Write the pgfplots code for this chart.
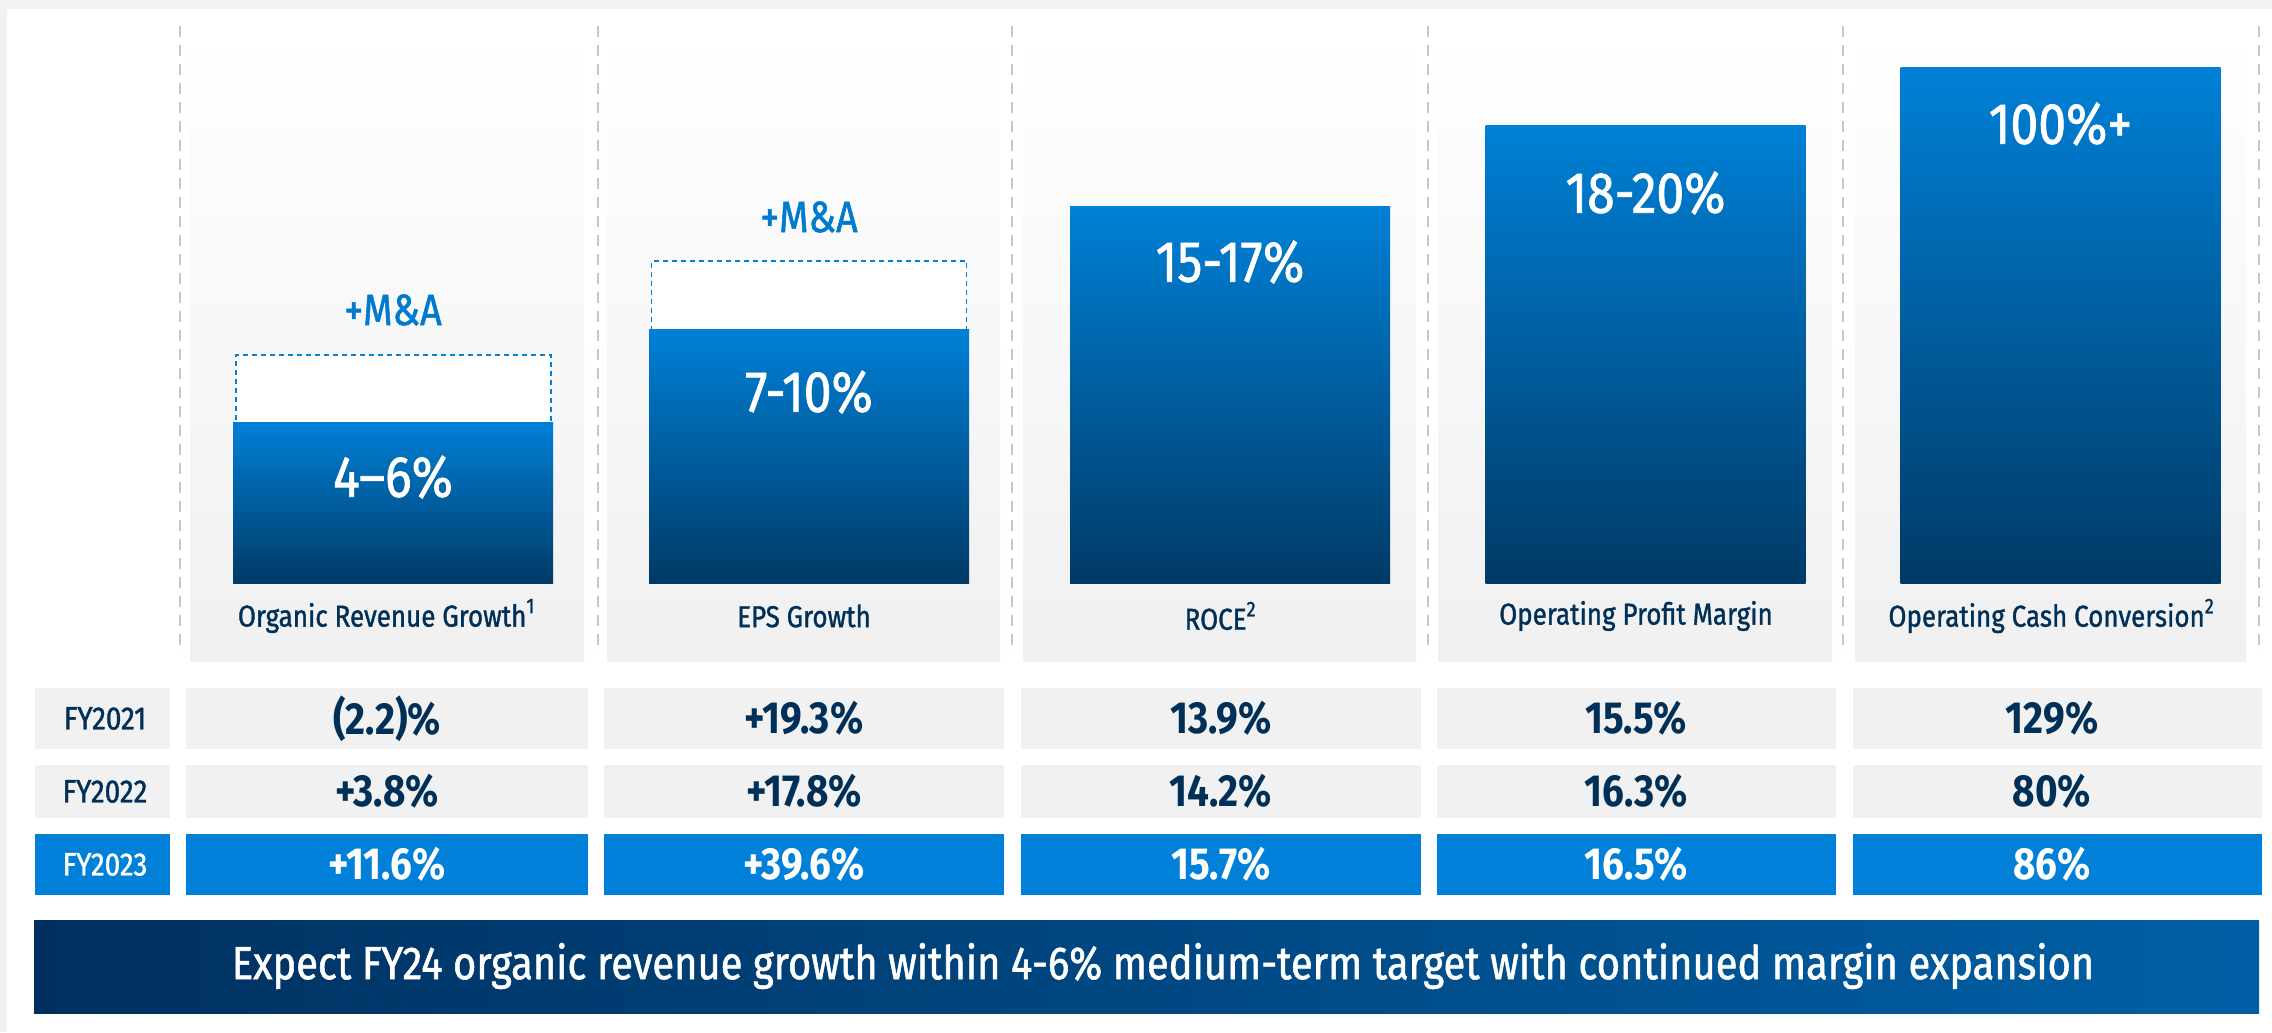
\documentclass[border=0pt]{standalone}
\usepackage{fontspec}
\setmainfont[FakeStretch=0.86]{Fira Sans}
\newfontfamily\med[FakeStretch=0.86, FakeBold=1.2]{Fira Sans}
\usepackage{pgfplots}
\pgfplotsset{compat=1.18}

\definecolor{barTop}{RGB}{0,128,214}
\definecolor{barBot}{RGB}{0,58,102}
\definecolor{navy}{RGB}{0,48,87}
\definecolor{mablue}{RGB}{0,122,204}
\definecolor{rowgray}{RGB}{241,241,241}
\definecolor{rowblue}{RGB}{0,128,216}
\definecolor{banL}{RGB}{0,48,95}
\definecolor{banR}{RGB}{0,95,165}
\definecolor{sepgray}{RGB}{200,200,200}
\definecolor{panelgray}{RGB}{240,240,240}
\definecolor{framegray}{RGB}{242,242,242}

\newcommand\fs[1]{\fontsize{#1}{#1}\selectfont}

\begin{document}
\begin{tikzpicture}
\begin{axis}[
  scale only axis, width=22.72cm, height=10.32cm,
  xmin=0, xmax=2272, ymin=-449, ymax=583,
  hide axis, clip=false, no markers,
  tbar/.style={ybar, bar width=320, bar shift=0pt, draw=none,
    top color=barTop, bottom color=barBot},
]
% frame and page
\fill[framegray] (0,-449) rectangle (2272,583);
\fill[white] (7,-449) rectangle (2272,574);

% column panels
\shade[top color=white, bottom color=panelgray] (190,-78) rectangle (584,557);
\shade[top color=white, bottom color=panelgray] (607,-78) rectangle (1000,557);
\shade[top color=white, bottom color=panelgray] (1023,-78) rectangle (1416,557);
\shade[top color=white, bottom color=panelgray] (1438,-78) rectangle (1832,557);
\shade[top color=white, bottom color=panelgray] (1855,-78) rectangle (2246,557);

% dashed separators
\begin{scope}[sepgray, line width=0.45pt, dash pattern=on 1.1mm off 0.8mm]
\draw (180,557) -- (180,-70);
\draw (598,557) -- (598,-70);
\draw (1012,557) -- (1012,-70);
\draw (1428,557) -- (1428,-70);
\draw (1843,557) -- (1843,-70);
\draw (2259,557) -- (2259,-70);
\end{scope}

% M&A upside (dashed boxes)
\addplot[ybar, bar width=315, bar shift=0pt, draw=barTop, fill=white,
  line width=0.45pt, dash pattern=on 0.5mm off 0.4mm]
  coordinates {(393.5,228) (809,322)};

% target bars, one plot each so every bar gets its own gradient
\addplot[tbar] coordinates {(393,161)};
\addplot[tbar] coordinates {(809,254)};
\addplot[tbar] coordinates {(1230,376)};
\addplot[tbar] coordinates {(1645.5,457)};
\addplot[tbar] coordinates {(2060.5,515)};

% bar texts
\node[text=white, font=\med\fs{16.5}] at (393,106) {4–6\%};
\node[text=white, font=\med\fs{16.5}] at (809,191) {7-10\%};
\node[text=white, font=\med\fs{16.5}] at (1230,321) {15-17\%};
\node[text=white, font=\med\fs{16.5}] at (1645.5,390) {18-20\%};
\node[text=white, font=\med\fs{16.5}] at (2060.5,459) {100\%+};
\node[text=mablue, font=\med\fs{12.5}] at (393,273) {+M\&A};
\node[text=mablue, font=\med\fs{12.5}] at (809,366) {+M\&A};

% category labels
\node[text=navy, font=\med\fs{8.6}] at (387,-33) {Organic Revenue Growth\textsuperscript{1}};
\node[text=navy, font=\med\fs{8.6}] at (804,-33) {EPS Growth};
\node[text=navy, font=\med\fs{8.6}] at (1221,-33) {ROCE\textsuperscript{2}};
\node[text=navy, font=\med\fs{8.6}] at (1636,-33) {Operating Profit Margin};
\node[text=navy, font=\med\fs{8.6}] at (2052,-33) {Operating Cash Conversion\textsuperscript{2}};

% table rows
\fill[rowgray] (35,-166) rectangle (170,-105);
\fill[rowgray] (186,-166) rectangle (588,-105);
\fill[rowgray] (604,-166) rectangle (1004,-105);
\fill[rowgray] (1021,-166) rectangle (1421,-105);
\fill[rowgray] (1437,-166) rectangle (1836,-105);
\fill[rowgray] (1853,-166) rectangle (2262,-105);

\fill[rowgray] (35,-235) rectangle (170,-182);
\fill[rowgray] (186,-235) rectangle (588,-182);
\fill[rowgray] (604,-235) rectangle (1004,-182);
\fill[rowgray] (1021,-235) rectangle (1421,-182);
\fill[rowgray] (1437,-235) rectangle (1836,-182);
\fill[rowgray] (1853,-235) rectangle (2262,-182);

\fill[rowblue] (35,-312) rectangle (170,-251);
\fill[rowblue] (186,-312) rectangle (588,-251);
\fill[rowblue] (604,-312) rectangle (1004,-251);
\fill[rowblue] (1021,-312) rectangle (1421,-251);
\fill[rowblue] (1437,-312) rectangle (1836,-251);
\fill[rowblue] (1853,-312) rectangle (2262,-251);

\node[text=navy, font=\med\fs{9.2}] at (105,-135.5) {FY2021};
\node[text=navy, font=\med\fs{9.2}] at (105,-208.5) {FY2022};
\node[text=white, font=\med\fs{9.2}] at (105,-281.5) {FY2023};

\node[text=navy, font=\fs{12.8}\bfseries] at (387,-135.5) {(2.2)\%};
\node[text=navy, font=\fs{12.8}\bfseries] at (804,-135.5) {+19.3\%};
\node[text=navy, font=\fs{12.8}\bfseries] at (1221,-135.5) {13.9\%};
\node[text=navy, font=\fs{12.8}\bfseries] at (1636,-135.5) {15.5\%};
\node[text=navy, font=\fs{12.8}\bfseries] at (2052,-135.5) {129\%};

\node[text=navy, font=\fs{12.8}\bfseries] at (387,-208.5) {+3.8\%};
\node[text=navy, font=\fs{12.8}\bfseries] at (804,-208.5) {+17.8\%};
\node[text=navy, font=\fs{12.8}\bfseries] at (1221,-208.5) {14.2\%};
\node[text=navy, font=\fs{12.8}\bfseries] at (1636,-208.5) {16.3\%};
\node[text=navy, font=\fs{12.8}\bfseries] at (2052,-208.5) {80\%};

\node[text=white, font=\fs{12.8}\bfseries] at (387,-281.5) {+11.6\%};
\node[text=white, font=\fs{12.8}\bfseries] at (804,-281.5) {+39.6\%};
\node[text=white, font=\fs{12.8}\bfseries] at (1221,-281.5) {15.7\%};
\node[text=white, font=\fs{12.8}\bfseries] at (1636,-281.5) {16.5\%};
\node[text=white, font=\fs{12.8}\bfseries] at (2052,-281.5) {86\%};

% banner
\shade[left color=banL, right color=banR] (34,-430) rectangle (2259,-337);
\node[text=white, font=\med\fs{13.2}] at (1163,-383) {Expect FY24 organic revenue growth within 4-6\% medium-term target with continued margin expansion};
\end{axis}
\end{tikzpicture}
\end{document}
